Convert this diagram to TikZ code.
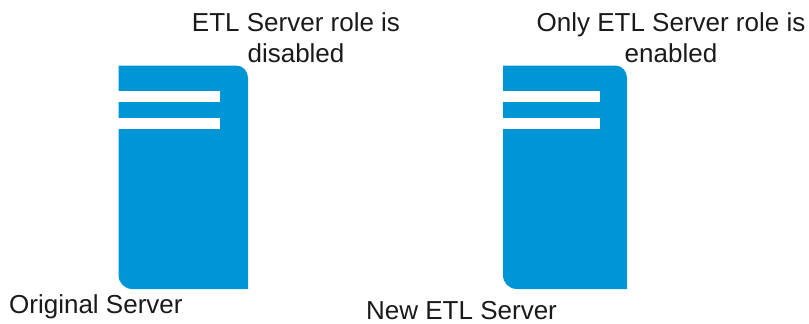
\documentclass[tikz,border=0pt]{standalone}
\usepackage{fontspec}
\setmainfont{Liberation Sans}
\definecolor{srv}{HTML}{0096D6}
\definecolor{txt}{HTML}{1A1A1A}
\tikzset{lbl/.style={inner sep=0pt,text=txt,font=\fontsize{26}{31}\selectfont,align=center},
 bar/.style={fill=white,draw=none}}
\newcommand{\srvshape}[3]{%
 \fill[srv] (#1,65.5) -- (#2-12,65.5) .. controls (#2-5,65.5) and (#2,71) .. (#2,78) -- (#2,289) -- (#1+14,289) .. controls (#1+6,289) and (#1,283) .. (#1,275) -- cycle;
 \fill[bar] (#1-1,91) rectangle (#3,102);
 \fill[bar] (#1-1,118) rectangle (#3,129);
}
\begin{document}
\begin{tikzpicture}[x=1pt,y=-1pt]
\useasboundingbox (0,0) rectangle (809,324);
\srvshape{118.5}{248}{219.5}
\srvshape{503}{627}{600}
\node[lbl] (a) at (296,38) {ETL Server role is\\disabled};
\node[lbl] (b) at (671,38) {Only ETL Server role is\\enabled};
\node[lbl,anchor=west] (c) at (9,307) {Original Server};
\node[lbl,anchor=west] (d) at (366,311) {New ETL Server};
\end{tikzpicture}
\end{document}
